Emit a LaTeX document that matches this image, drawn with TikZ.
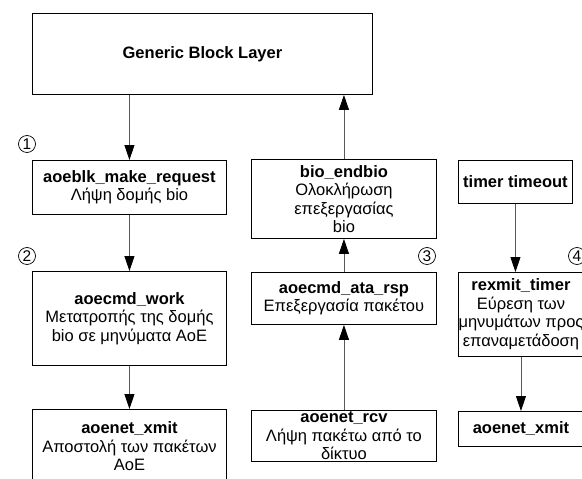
\documentclass[tikz,border=0pt]{standalone}
\usepackage{fontspec}
\setmainfont{Liberation Sans}
\usetikzlibrary{arrows.meta}
\tikzset{blk/.style = {draw, line width=0.9, inner sep=0, align=center, anchor=north west,
                       font=\fontsize{16.5}{18.5}\selectfont}}
\tikzset{flow/.style = {draw=black!65, line width=0.9,
                        -{Triangle[length=15pt, width=10pt, color=black]}}}
\tikzset{num/.style = {draw, circle, inner sep=0, minimum size=17, line width=0.7,
                       font=\fontsize{15.5}{15.5}\selectfont}}

\begin{document}
\begin{tikzpicture}[x=1pt, y=-1pt]
      \useasboundingbox (0,0) rectangle (582,479);
      \clip (0,0) rectangle (582,479);

      % left column
      \node [blk, minimum width=340, minimum height=81] (gbl) at (32,13) {\textbf{Generic Block Layer}};
      \node [blk, minimum width=194, minimum height=54] (makereq) at (32,160)
            {\textbf{aoeblk\_make\_request}\\Λήψη δομής bio};
      \node [blk, minimum width=194, minimum height=94] (cmdwork) at (32,271)
            {\textbf{aoecmd\_work}\\Μετατροπής της δομής\\bio σε μηνύματα AoE};
      \node [blk, minimum width=194, minimum height=74] (xmita) at (32,409)
            {\textbf{aoenet\_xmit}\\Αποστολή των πακέτων\\AoE};

      % middle column
      \node [blk, minimum width=185, minimum height=79] (endbio) at (251,159)
            {\textbf{bio\_endbio}\\Ολοκλήρωση\\επεξεργασίας\\bio};
      \node [blk, minimum width=185, minimum height=52] (atarsp) at (251,272)
            {\textbf{aoecmd\_ata\_rsp}\\Επεξεργασία πακέτου};
      \node [blk, minimum width=185, minimum height=51] (rcv) at (251,410)
            {\textbf{aoenet\_rcv}\\Λήψη πακέτω από το\\δίκτυο};

      % right column
      \node [blk, minimum width=114, minimum height=43] (timeout) at (458,160) {\textbf{timer timeout}};
      \node [blk, minimum width=125, minimum height=84] (rexmit) at (458,272)
            {\textbf{rexmit\_timer}\\Εύρεση των\\μηνυμάτων προς\\επαναμετάδοση};
      \node [blk, minimum width=125, minimum height=35] (xmitb) at (458,411) {\textbf{aoenet\_xmit}};

      % step numbers
      \node [num] (n1) at (27,144) {1};
      \node [num] (n2) at (27,256) {2};
      \node [num] (n3) at (427,256) {3};
      \node [num] (n4) at (577,256) {4};

      \draw [flow] (makereq.north |- gbl.south) -- (makereq.north);
      \draw [flow] (makereq) -- (cmdwork);
      \draw [flow] (cmdwork) -- (xmita);
      \draw [flow] (endbio.north) -- (endbio.north |- gbl.south);
      \draw [flow] (atarsp) -- (endbio);
      \draw [flow] (rcv) -- (atarsp);
      \draw [flow] (timeout) -- (timeout |- rexmit.north);
      \draw [flow] (rexmit) -- (xmitb);
    \end{tikzpicture}
\end{document}
